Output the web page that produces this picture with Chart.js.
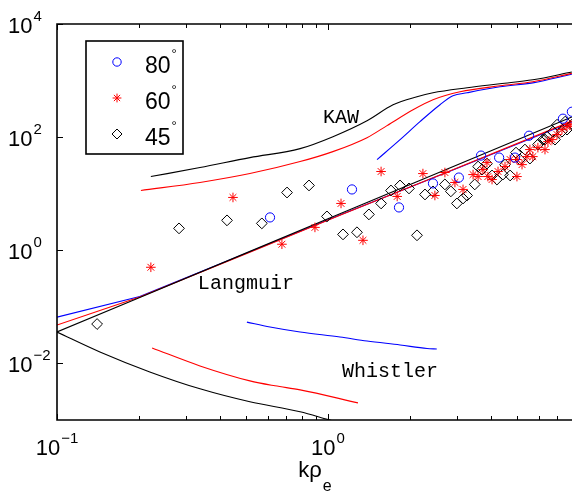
<!DOCTYPE html>
<html><head><meta charset="utf-8">
<script src="https://cdn.jsdelivr.net/npm/chart.js@4.4.1/dist/chart.umd.min.js"></script>
<style>html,body{margin:0;padding:0;background:#fff;overflow:hidden}canvas{display:block}</style>
</head><body>
<canvas id="c" width="572" height="493"></canvas>
<script>
// ---------- data ----------
const seriesLabels = ['80°', '60°', '45°'];
const seriesColors = ['#0000ff', '#ff0000', '#000000'];

const circles80X = [0.611, 1.226, 1.828, 2.44, 3.04, 3.67, 4.28, 4.90, 5.52, 7.36, 7.94];
const circles80Y = [3.81, 11.9, 5.72, 15.2, 19.3, 47.2, 43.5, 43.5, 106, 212, 281];

const stars60X = [0.222, 0.446, 0.676, 0.895, 1.117, 1.346, 1.570, 1.80, 2.24, 2.48, 2.70, 2.94, 3.15, 3.43, 3.58, 3.73, 3.86, 3.89, 4.03, 4.24, 4.50, 4.70, 4.98, 4.98, 5.20, 5.42, 5.56, 5.70, 5.95, 6.32, 6.48, 6.71, 7.00, 7.30, 7.62, 7.82];
const stars60Y = [0.501, 8.59, 1.28, 2.54, 6.73, 1.50, 24.7, 8.95, 22.7, 9.31, 23.7, 15.8, 11.9, 21.8, 20.1, 26.7, 35.5, 20.1, 17.8, 24.7, 30.2, 40.2, 20.1, 40.2, 32.7, 45.3, 60.3, 45.3, 65.3, 60.3, 83.3, 90.4, 111, 136, 153, 166];

const diamonds45X = [0.1406, 0.282, 0.424, 0.570, 0.706, 0.851, 0.991, 1.136, 1.279, 1.416, 1.570, 1.708, 1.844, 1.99, 2.13, 2.28, 2.44, 2.70, 2.84, 2.99, 3.15, 3.26, 3.48, 3.58, 3.70, 3.86, 4.03, 4.20, 4.42, 4.50, 4.70, 4.94, 5.11, 5.33, 5.56, 5.95, 6.21, 6.32, 6.43, 6.76, 6.88, 7.00, 7.30, 7.50, 7.62, 7.94];
const diamonds45Y = [0.0497, 2.44, 3.38, 2.99, 10.5, 14.0, 3.97, 1.91, 2.08, 4.31, 6.73, 11.4, 14.0, 12.4, 1.84, 9.70, 11.0, 14.6, 11.0, 6.73, 8.25, 9.31, 14.6, 30.2, 26.7, 34.1, 21.0, 17.8, 21.8, 32.7, 21.0, 53.3, 40.2, 60.3, 41.8, 73.8, 90.4, 90.4, 102, 125, 90.4, 166, 125, 188, 136, 166];

// KAW curves
const kawBlackX = [0.222, 0.337, 0.515, 0.789, 1.043, 1.393, 1.738, 2.13, 2.44, 3.26, 4.31, 5.70, 7.94];
const kawBlackY = [20.1, 29.0, 43.5, 62.7, 102, 195, 374, 518, 608, 745, 877, 1031, 1420];
const kawRedX = [0.204, 0.337, 0.515, 0.789, 1.042, 1.393, 1.651, 2.06, 2.44, 3.07, 4.31, 5.70, 7.94];
const kawRedY = [11.4, 15.8, 22.7, 37.0, 55.5, 98, 160, 305, 458, 634, 808, 950, 1340];
const kawBlueX = [1.517, 1.845, 2.185, 2.59, 2.89, 3.26, 4.31, 5.70, 7.94];
const kawBlueY = [40.1, 90.4, 188, 374, 538, 608, 776, 912, 1290];

// Langmuir curves
const langBlackX = [0.1, 0.2, 0.5, 1, 2, 5, 7.94];
const langBlackY = [0.036, 0.144, 0.90, 3.6, 14.4, 90, 228];
const langRedX = [0.1, 0.202, 0.515, 1.107, 2.83, 7.94];
const langRedY = [0.0477, 0.149, 0.925, 4.15, 25.5, 192];
const langBlueX = [0.1, 0.202, 0.515, 1.107, 2.83, 7.94];
const langBlueY = [0.0659, 0.152, 0.94, 4.2, 25.3, 186];

// Whistler curves
const whiBlackX = [0.1, 0.144, 0.220, 0.337, 0.515, 0.789, 1.0, 1.1];
const whiBlackY = [0.0359, 0.01595, 0.00708, 0.00356, 0.0021, 0.0014, 0.00102, 0.0009];
const whiRedX = [0.2244, 0.337, 0.515, 0.637, 0.789, 1.29];
const whiRedY = [0.01875, 0.00904, 0.00492, 0.00402, 0.00341, 0.00201];
const whiBlueX = [0.502, 0.611, 0.789, 1.107, 1.393, 1.845, 2.32, 2.52];
const whiBlueY = [0.0538, 0.0440, 0.0359, 0.0293, 0.0249, 0.0212, 0.01837, 0.0180];

// axis ticks and labels
const xTickValues = [0.1, 1];
const xTickExps = ['−1', '0'];
const xMinorTicks = [0.2, 0.3, 0.4, 0.5, 0.6, 0.7, 0.8, 0.9, 2, 3, 4, 5, 6, 7];
const yTickValues = [1e-2, 1, 1e2, 1e4];
const yTickExps = ['−2', '0', '2', '4'];
const xTitleMain = 'kρ';
const xTitleSub = 'e';
const curveLabels = [
  {text: 'KAW', x: 0.958, y: 180},
  {text: 'Langmuir', x: 0.331, y: 0.2055},
  {text: 'Whistler', x: 1.126, y: 0.00578}
];

// ---------- chart ----------
function pts(xs, ys) { return xs.map((x, i) => ({x: x, y: ys[i]})); }
const SANS = '"Liberation Sans", Arial, Helvetica, sans-serif';
const MONO = '"Liberation Mono", "Courier New", monospace';

function curve(xs, ys, color, smooth) {
  return {
    data: pts(xs, ys), showLine: true, borderColor: color, borderWidth: 1.1,
    pointRadius: 0, pointHoverRadius: 0, fill: false,
    cubicInterpolationMode: smooth ? 'monotone' : 'default', tension: 0
  };
}
const markerStyles = [
  {pointStyle: 'circle', radius: 4.6},
  {pointStyle: 'star', radius: 4.8},
  {pointStyle: 'rectRot', radius: 5.4}
];
function markers(xs, ys, idx) {
  return {
    label: seriesLabels[idx], data: pts(xs, ys), showLine: false,
    pointStyle: markerStyles[idx].pointStyle, pointRadius: markerStyles[idx].radius,
    pointBorderColor: seriesColors[idx], pointBackgroundColor: 'rgba(0,0,0,0)',
    pointBorderWidth: 1, borderColor: seriesColors[idx], backgroundColor: 'rgba(0,0,0,0)'
  };
}

function drawPow(ctx, base, exp, x, baseline, align) {
  ctx.font = '22px ' + SANS;
  const wb = ctx.measureText(base).width;
  ctx.font = '15px ' + SANS;
  const we = ctx.measureText(exp).width;
  let sx = align === 'center' ? x - (wb + 1 + we) / 2 : x;
  ctx.textAlign = 'left';
  ctx.textBaseline = 'alphabetic';
  ctx.font = '22px ' + SANS;
  ctx.fillText(base, sx, baseline);
  ctx.font = '15px ' + SANS;
  ctx.fillText(exp, sx + wb + 1, baseline - 12);
}

function drawMarker(ctx, style, radius, color, x, y) {
  ctx.strokeStyle = color; ctx.fillStyle = 'rgba(0,0,0,0)'; ctx.lineWidth = 1;
  if (Chart.helpers && Chart.helpers.drawPoint) {
    Chart.helpers.drawPoint(ctx, {pointStyle: style, radius: radius, borderWidth: 1, rotation: 0}, x, y);
  }
}

const decor = {
  id: 'decor',
  afterDraw(chart) {
    const ctx = chart.ctx, a = chart.chartArea, xs = chart.scales.x, ys = chart.scales.y;
    ctx.save();
    ctx.strokeStyle = '#000'; ctx.fillStyle = '#000';
    ctx.lineWidth = 1;
    const seg = (x1, y1, x2, y2) => { ctx.beginPath(); ctx.moveTo(x1, y1); ctx.lineTo(x2, y2); ctx.stroke(); };
    xMinorTicks.forEach(v => {
      const p = Math.round(xs.getPixelForValue(v)) + 0.5;
      seg(p, a.bottom, p, a.bottom - 4); seg(p, a.top, p, a.top + 4);
    });
    xTickValues.forEach(v => {
      const p = Math.round(xs.getPixelForValue(v)) + 0.5;
      seg(p, a.bottom, p, a.bottom - 6); seg(p, a.top, p, a.top + 6);
    });
    yTickValues.forEach(v => {
      const p = Math.round(ys.getPixelForValue(v)) + 0.5;
      seg(a.left, p, a.left + 6, p);
    });
    ctx.lineWidth = 1.6;
    ctx.beginPath();
    ctx.moveTo(a.right + 2, a.top); ctx.lineTo(a.left, a.top);
    ctx.lineTo(a.left, a.bottom); ctx.lineTo(a.right + 2, a.bottom);
    ctx.stroke();
    yTickValues.forEach((v, i) => {
      const p = ys.getPixelForValue(v);
      drawPow(ctx, '10', yTickExps[i], 8, p + 9, 'left');
    });
    xTickValues.forEach((v, i) => {
      const p = xs.getPixelForValue(v);
      drawPow(ctx, '10', xTickExps[i], p, a.bottom + 35, 'center');
    });
    ctx.font = '22px ' + SANS;
    const w1 = ctx.measureText(xTitleMain).width;
    ctx.font = '16px ' + SANS;
    const w2 = ctx.measureText(xTitleSub).width;
    const cx = (a.left + a.right) / 2;
    const sx = cx - (w1 + w2) / 2;
    ctx.textAlign = 'left'; ctx.textBaseline = 'alphabetic';
    ctx.font = '22px ' + SANS; ctx.fillText(xTitleMain, sx, a.bottom + 57);
    ctx.font = '16px ' + SANS; ctx.fillText(xTitleSub, sx + w1 + 1, a.bottom + 71);
    ctx.font = '20px ' + MONO;
    curveLabels.forEach(l => {
      ctx.fillText(l.text, xs.getPixelForValue(l.x), ys.getPixelForValue(l.y));
    });
    const L = a.left + 29, T = a.top + 17, W = 97, H = 113;
    ctx.fillStyle = '#fff';
    ctx.fillRect(L, T, W, H);
    ctx.lineWidth = 1.6; ctx.strokeStyle = '#000';
    ctx.strokeRect(L, T, W, H);
    seriesLabels.forEach((lab, i) => {
      const my = T + 21 + i * 36;
      drawMarker(ctx, markerStyles[i].pointStyle, markerStyles[i].radius - 0.4, seriesColors[i], L + 31, my);
      const base = lab.replace('°', '');
      ctx.fillStyle = '#000';
      ctx.font = '23px ' + SANS; ctx.textAlign = 'left'; ctx.textBaseline = 'alphabetic';
      ctx.fillText(base, L + 59, my + 11);
      const wb = ctx.measureText(base).width;
      ctx.font = '13px ' + SANS;
      ctx.fillText('°', L + 59 + wb + 1, my - 4);
    });
    ctx.restore();
  }
};

new Chart(document.getElementById('c'), {
  type: 'scatter',
  data: {
    datasets: [
      markers(circles80X, circles80Y, 0),
      markers(stars60X, stars60Y, 1),
      markers(diamonds45X, diamonds45Y, 2),
      curve(kawBlackX, kawBlackY, '#000000', true),
      curve(kawRedX, kawRedY, '#ff0000', true),
      curve(kawBlueX, kawBlueY, '#0000ff', true),
      curve(langBlackX, langBlackY, '#000000', false),
      curve(langRedX, langRedY, '#ff0000', false),
      curve(langBlueX, langBlueY, '#0000ff', false),
      curve(whiBlackX, whiBlackY, '#000000', true),
      curve(whiRedX, whiRedY, '#ff0000', true),
      curve(whiBlueX, whiBlueY, '#0000ff', true)
    ]
  },
  options: {
    responsive: false, animation: false, devicePixelRatio: 1,
    layout: {padding: {left: 57, top: 24, right: 0, bottom: 73}, autoPadding: false},
    plugins: {legend: {display: false}, tooltip: {enabled: false}},
    events: [],
    scales: {
      x: {type: 'logarithmic', min: 0.1, max: 7.95, display: false},
      y: {type: 'logarithmic', min: 1e-3, max: 1e4, display: false}
    }
  },
  plugins: [decor]
});
</script>
</body></html>
